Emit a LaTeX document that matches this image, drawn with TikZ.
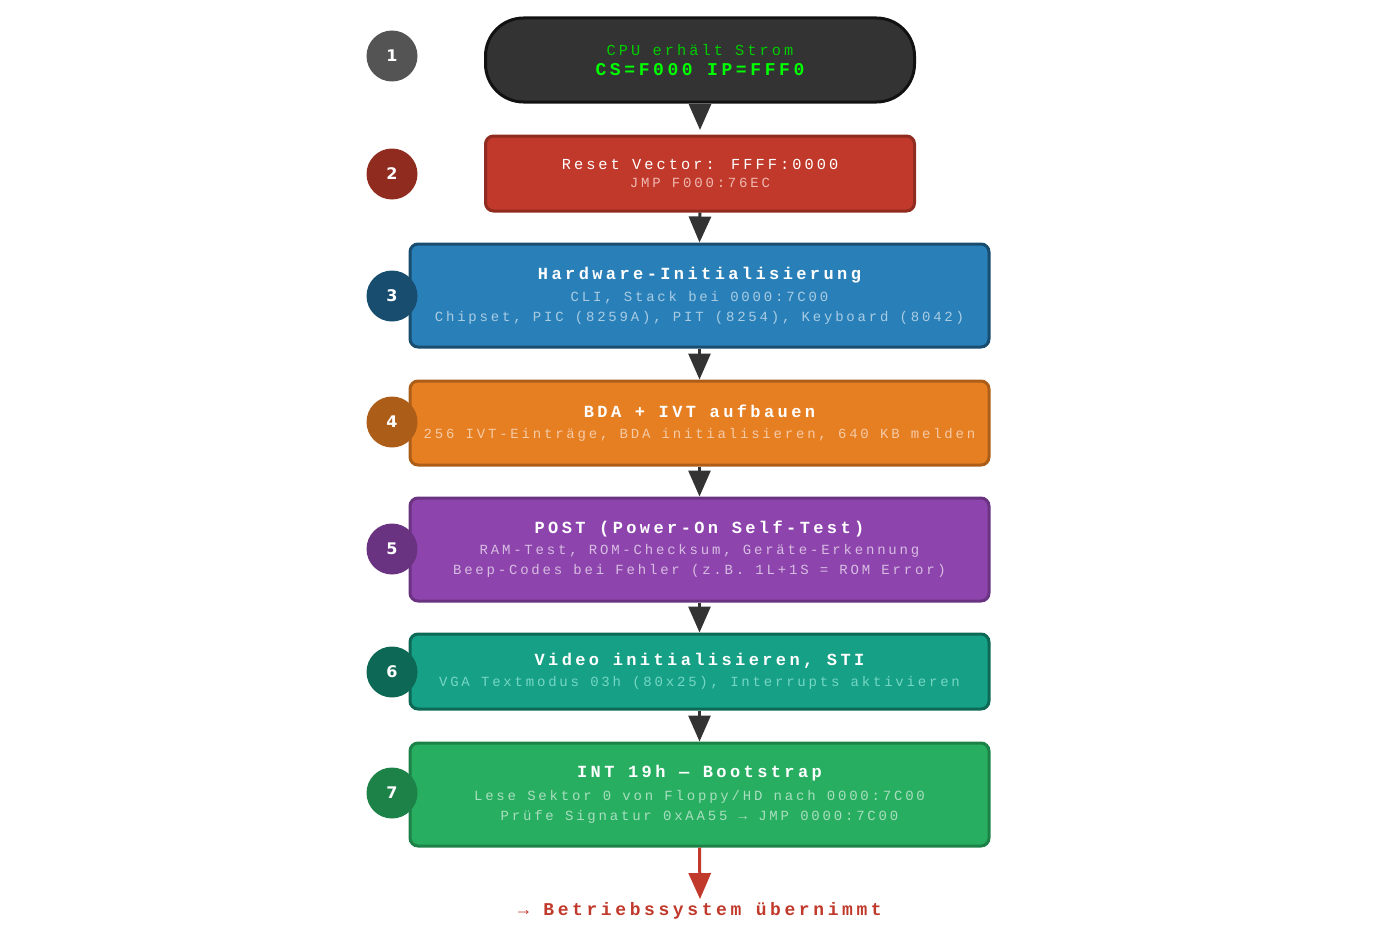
\documentclass[tikz,border=0pt]{standalone}
\usepackage{fontspec}
\usepackage{tikz}
\usetikzlibrary{arrows.meta}
\newfontfamily\mono[LetterSpace=20]{Liberation Mono}
\newfontfamily\numfont{DejaVu Sans}
\definecolor{cdark}{HTML}{333333}
\definecolor{cred}{HTML}{C0392B}
\definecolor{cblue}{HTML}{2980B9}
\definecolor{corange}{HTML}{E67E22}
\definecolor{cpurple}{HTML}{8E44AD}
\definecolor{cteal}{HTML}{16A085}
\definecolor{cgreen}{HTML}{27AE60}
\tikzstyle{stage}=[rectangle, rounded corners=8pt, line width=3pt, minimum width=579pt, align=center, inner sep=0pt]
\tikzstyle{badge}=[circle, minimum size=51pt, inner sep=0pt, text=white, font=\numfont\bfseries\fontsize{16}{16}\selectfont]
\tikzstyle{arrow}=[draw=cdark, line width=3pt, -{Triangle[length=26pt, width=22pt]}]
\newcommand{\ttl}[1]{{\fontsize{17}{20}\selectfont\bfseries #1}}
\newcommand{\sub}[2]{{\fontsize{14}{16}\selectfont\color[HTML]{#1}#2}}

\begin{document}
\begin{tikzpicture}[x=1pt, y=-1pt, font=\mono]
	\useasboundingbox (0,0) rectangle (1400,934);
	\begin{scope}
		\node (s1) at (700,60)[stage, rounded corners=38pt, minimum width=429pt, minimum height=84pt, fill=cdark, draw=black!93] {{\fontsize{15.3}{18}\selectfont\color[HTML]{00CC00}CPU erhält Strom}\\[6pt]{\fontsize{18}{20}\selectfont\bfseries\color[HTML]{00FF00}CS=F000 IP=FFF0}};
		\node (s2) at (700,173.5)[stage, minimum width=429pt, minimum height=75pt, fill=cred, draw=cred!75!black] {{\fontsize{15.3}{18}\selectfont\color{white}Reset Vector: FFFF:0000}\\[6pt]\sub{F1B8B0}{JMP F000:76EC}};
		\node (s3) at (699.5,295.5)[stage, minimum height=103pt, fill=cblue, draw=cblue!60!black, text=white] {\ttl{Hardware-Initialisierung}\\[8pt]\sub{A9CCE3}{CLI, Stack bei 0000:7C00}\\[6pt]\sub{A9CCE3}{Chipset, PIC (8259A), PIT (8254), Keyboard (8042)}};
		\node (s4) at (699.5,423)[stage, minimum height=84pt, fill=corange, draw=corange!75!black, text=white] {\ttl{BDA + IVT aufbauen}\\[9pt]\sub{F5CBA7}{256 IVT-Einträge, BDA initialisieren, 640 KB melden}};
		\node (s5) at (699.5,549.5)[stage, minimum height=103pt, fill=cpurple, draw=cpurple!75!black, text=white] {\ttl{POST (Power-On Self-Test)}\\[6pt]\sub{D7BDE2}{RAM-Test, ROM-Checksum, Geräte-Erkennung}\\[6pt]\sub{D7BDE2}{Beep-Codes bei Fehler (z.B. 1L+1S = ROM Error)}};
		\node (s6) at (699.5,671.5)[stage, minimum height=75pt, fill=cteal, draw=cteal!65!black, text=white] {\ttl{Video initialisieren, STI}\\[7pt]\sub{76D7C4}{VGA Textmodus 03h (80x25), Interrupts aktivieren}};
		\node (s7) at (699.5,794.5)[stage, minimum height=103pt, fill=cgreen, draw=cgreen!75!black, text=white] {\ttl{INT 19h — Bootstrap}\\[8pt]\sub{A9DFBF}{Lese Sektor 0 von Floppy/HD nach 0000:7C00}\\[6pt]\sub{A9DFBF}{Prüfe Signatur 0xAA55 → JMP 0000:7C00}};
		\node (os) at (700,911) {\fontsize{18}{20}\selectfont\bfseries\color{cred}→ Betriebssystem übernimmt};
	\end{scope}
	\begin{scope}
		\path [arrow] (s1) -- (700,130);
		\path [arrow] (s2.south) -- (s3.north);
		\path [arrow] (s3.south) -- (s4.north);
		\path [arrow] (s4.south) -- (s5.north);
		\path [arrow] (s5.south) -- (s6.north);
		\path [arrow] (s6.south) -- (s7.north);
		\path [arrow, draw=cred] (s7.south) -- (os.north);
	\end{scope}
	\begin{scope}
		\node (b1) at (392,56)[badge, fill=black!67] {1};
		\node (b2) at (392,174)[badge, fill=cred!75!black] {2};
		\node (b3) at (392,296)[badge, fill=cblue!60!black] {3};
		\node (b4) at (392,422)[badge, fill=corange!75!black] {4};
		\node (b5) at (392,549)[badge, fill=cpurple!75!black] {5};
		\node (b6) at (392,672)[badge, fill=cteal!65!black] {6};
		\node (b7) at (392,793)[badge, fill=cgreen!75!black] {7};
	\end{scope}
\end{tikzpicture}
\end{document}
